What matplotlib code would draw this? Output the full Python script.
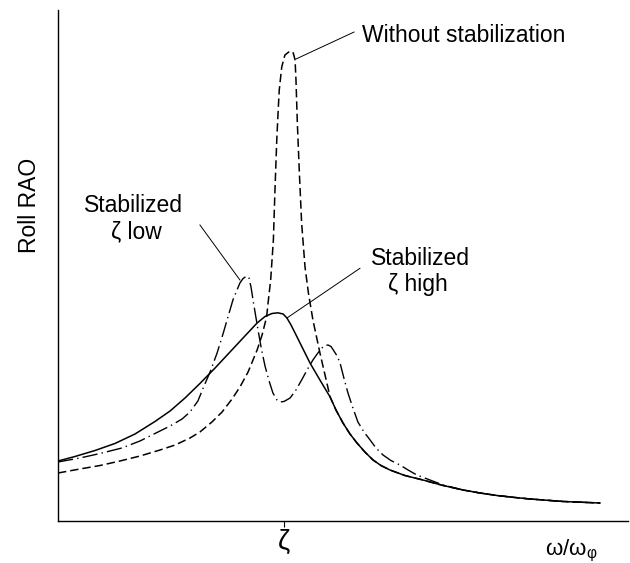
import matplotlib
matplotlib.use("Agg")
import matplotlib.pyplot as plt

plt.rcParams['font.family'] = ['Liberation Sans', 'DejaVu Sans']
plt.rcParams['mathtext.fontset'] = 'custom'
plt.rcParams['mathtext.rm'] = 'Liberation Sans'

# ---- data (x = omega/omega_phi, resonance at 1.0) ----
x_high = [0, 0.075, 0.164, 0.252, 0.341, 0.429, 0.496, 0.562, 0.628, 0.695, 0.761,
          0.827, 0.881, 0.916, 0.947, 0.973, 0.996, 1.013, 1.031, 1.049, 1.071,
          1.115, 1.159, 1.204, 1.230, 1.261, 1.292, 1.323, 1.358, 1.394, 1.429,
          1.469, 1.535, 1.615, 1.704, 1.792, 1.867, 1.942, 2.022, 2.088, 2.235, 2.398]
y_high = [1.174, 1.262, 1.380, 1.517, 1.703, 1.947, 2.153, 2.407, 2.691, 2.994, 3.307,
          3.620, 3.875, 4.002, 4.061, 4.074, 4.051, 3.973, 3.836, 3.679, 3.483,
          3.092, 2.759, 2.427, 2.172, 1.918, 1.703, 1.526, 1.350, 1.194, 1.086,
          0.998, 0.890, 0.802, 0.695, 0.607, 0.548, 0.499, 0.460, 0.431, 0.382, 0.352]

x_none = [0, 0.097, 0.186, 0.274, 0.363, 0.451, 0.518, 0.584, 0.628, 0.681, 0.726,
          0.770, 0.805, 0.841, 0.881, 0.903, 0.923, 0.931, 0.941, 0.953, 0.960,
          0.968, 0.975, 0.979, 0.990, 1.004, 1.027, 1.041, 1.049, 1.053, 1.059,
          1.068, 1.078, 1.093, 1.108, 1.128, 1.159, 1.204, 1.230, 1.261, 1.292,
          1.323, 1.358, 1.394, 1.429, 1.469, 1.535, 1.615, 1.704, 1.792, 1.867,
          1.942, 2.022, 2.088, 2.235, 2.398]
y_none = [0.939, 1.018, 1.086, 1.174, 1.272, 1.389, 1.487, 1.624, 1.742, 1.937, 2.133,
          2.387, 2.622, 2.916, 3.346, 3.640, 3.992, 4.325, 4.716, 5.499, 6.477,
          7.456, 8.102, 8.434, 8.885, 9.119, 9.198, 9.159, 9.022, 8.630, 7.789,
          6.810, 5.832, 4.971, 4.462, 3.933, 3.288, 2.427, 2.172, 1.918, 1.703,
          1.526, 1.350, 1.194, 1.086, 0.998, 0.890, 0.802, 0.695, 0.607, 0.548,
          0.499, 0.460, 0.431, 0.382, 0.352]

x_low = [0, 0.097, 0.186, 0.283, 0.363, 0.429, 0.496, 0.549, 0.584, 0.619, 0.646,
         0.673, 0.704, 0.730, 0.752, 0.774, 0.792, 0.805, 0.819, 0.835, 0.845,
         0.854, 0.863, 0.874, 0.886, 0.900, 0.916, 0.934, 0.951, 0.969, 0.982,
         1.000, 1.027, 1.053, 1.078, 1.102, 1.128, 1.150, 1.168, 1.181, 1.195,
         1.208, 1.221, 1.235, 1.248, 1.265, 1.283, 1.305, 1.327, 1.354, 1.381,
         1.407, 1.438, 1.473, 1.513, 1.549, 1.588, 1.646, 1.704, 1.792, 1.867,
         1.942, 2.022, 2.088, 2.235, 2.398]
y_low = [1.155, 1.233, 1.321, 1.429, 1.566, 1.712, 1.859, 1.996, 2.133, 2.348, 2.642,
         2.916, 3.288, 3.659, 3.992, 4.325, 4.521, 4.658, 4.746, 4.795, 4.755,
         4.579, 4.325, 4.031, 3.718, 3.366, 3.033, 2.740, 2.505, 2.368, 2.329,
         2.339, 2.407, 2.564, 2.759, 2.955, 3.151, 3.288, 3.386, 3.434, 3.444,
         3.415, 3.327, 3.229, 3.092, 2.798, 2.505, 2.211, 1.937, 1.742, 1.585,
         1.429, 1.292, 1.184, 1.096, 0.998, 0.900, 0.802, 0.705, 0.607, 0.548,
         0.499, 0.460, 0.431, 0.382, 0.352]

tick_pos = [1.0]
tick_labels = ['ζ']

fig = plt.figure(figsize=(6.3, 5.63), dpi=100)
ax = fig.add_axes([58/630, 42/563, 570/630, 511/563])

ax.plot(x_high, y_high, color='black', lw=1.1, solid_joinstyle='round')
ax.plot(x_none, y_none, color='black', lw=1.1, linestyle=(0, (5.5, 2.6)))
ax.plot(x_low, y_low, color='black', lw=1.0, linestyle=(0, (11, 3, 1, 3)))

ax.set_xlim(0, 570/226)
ax.set_ylim(0, 10)
for s in ['top', 'right']:
    ax.spines[s].set_visible(False)
for s in ['left', 'bottom']:
    ax.spines[s].set_linewidth(1.0)
ax.set_yticks([])
ax.set_xticks(tick_pos)
ax.set_xticklabels(tick_labels, fontsize=20)
ax.tick_params(axis='x', length=4.5, width=0.8, pad=1.0)

fs = 16.5
# annotations
ax.plot([1.053, 1.310], [9.041, 9.569], color='black', lw=0.7)
ax.text(1.345, 9.368, 'Without stabilization', fontsize=fs, ha='left', va='baseline')

ax.plot([0.628, 0.805], [5.793, 4.716], color='black', lw=0.7)
ax.text(0.336, 6.047, 'Stabilized', fontsize=fs, ha='center', va='baseline')
ax.text(0.345, 5.538, 'ζ low', fontsize=fs, ha='center', va='baseline')

ax.plot([1.013, 1.336], [3.973, 4.945], color='black', lw=0.7)
ax.text(1.602, 5.010, 'Stabilized', fontsize=fs, ha='center', va='baseline')
ax.text(1.594, 4.501, 'ζ high', fontsize=fs, ha='center', va='baseline')

fig.text(29/630, 1 - 205/563, 'Roll RAO', rotation=90, fontsize=fs,
         ha='center', va='center')
fig.text(571/630, 1 - 555/563, r'ω/ω$_{\mathregular{φ}}$', fontsize=16,
         ha='center', va='baseline')

fig.savefig('out.png', dpi=100)
